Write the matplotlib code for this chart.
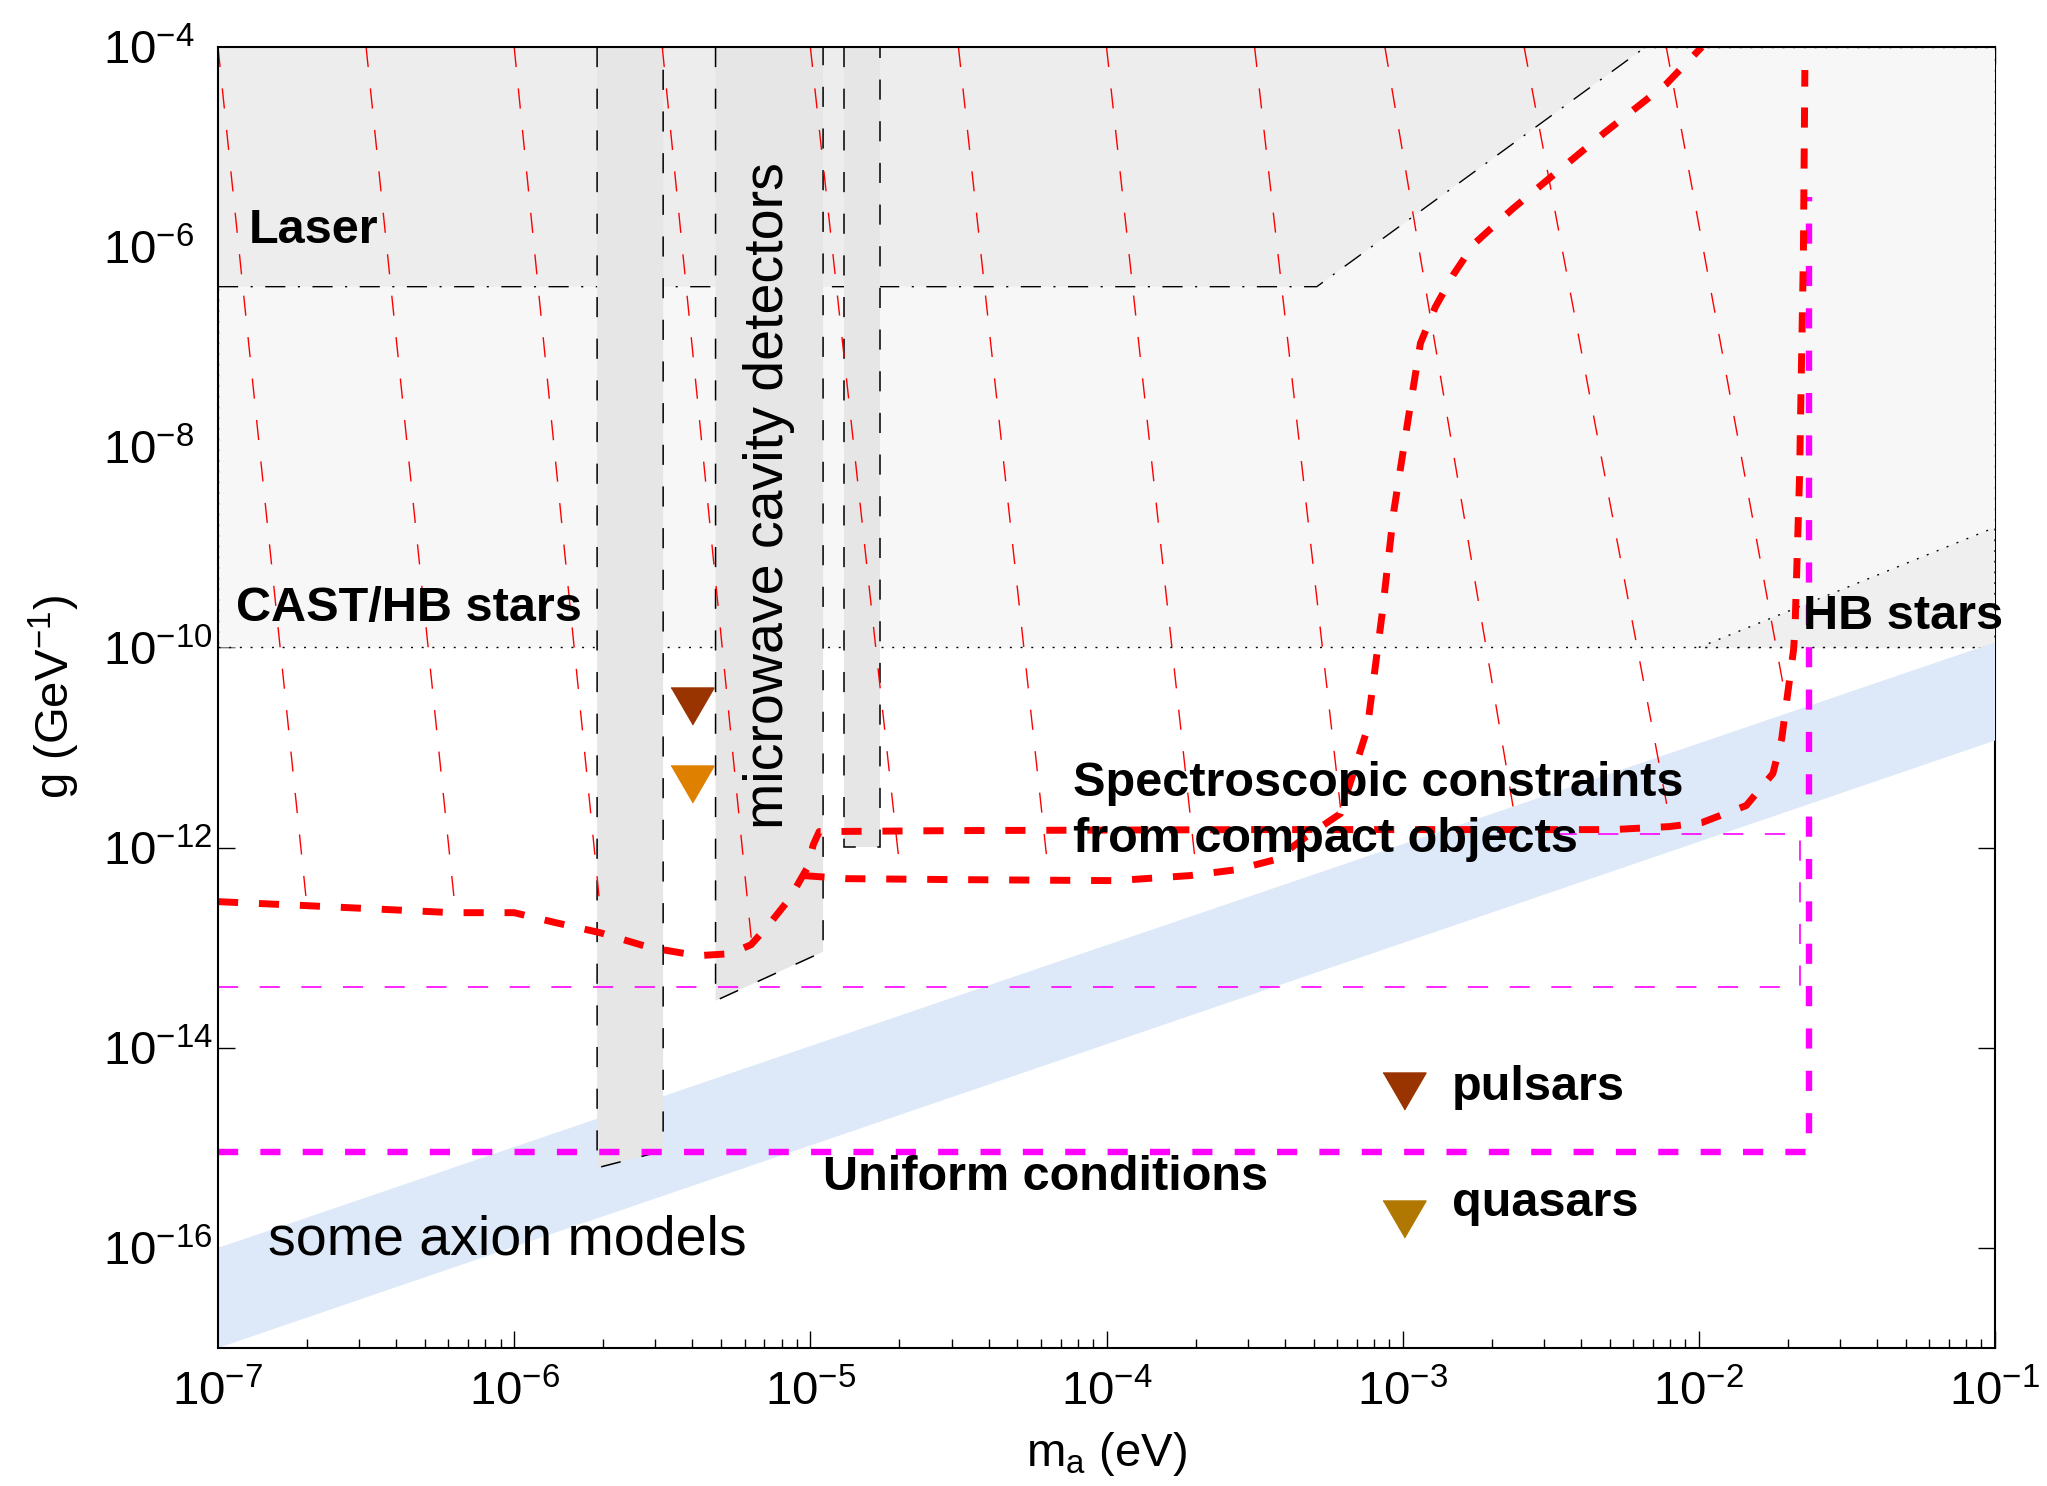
import numpy as np
import matplotlib
matplotlib.use('Agg')
import matplotlib.pyplot as plt
from matplotlib.ticker import LogLocator, NullLocator, NullFormatter

plt.rcParams['font.family'] = ['Liberation Sans', 'DejaVu Sans']
plt.rcParams['mathtext.fontset'] = 'custom'
plt.rcParams['mathtext.rm'] = 'Liberation Sans'
plt.rcParams['mathtext.it'] = 'Liberation Sans:italic'
plt.rcParams['mathtext.bf'] = 'Liberation Sans:bold'
plt.rcParams['lines.scale_dashes'] = False

# all values are log10: axion mass in eV, coupling in GeV^-1
x_range = [-7, -1]
y_range = [-17, -4]
x_tick_exp = [-7, -6, -5, -4, -3, -2, -1]
y_tick_exp = [-16, -14, -12, -10, -8, -6, -4]

# CAST / HB stars bound and the HB stars wedge
cast_x = [-7, -1, -1, -7]
cast_y = [-10, -10, -4, -4]
hb_x = [-2, -1, -1]
hb_y = [-10, -8.8, -10]

# laser experiments
laser_x = [-7, -3.29, -2.18, -7]
laser_y = [-6.395, -6.395, -4, -4]

# microwave cavity detectors (left, right, bottom left, bottom right)
cav_left = [-5.72, -5.32, -4.886]
cav_right = [-5.497, -4.957, -4.765]
cav_bot_left = [-15.2, -13.53, -11.99]
cav_bot_right = [-15.03, -13.04, -11.99]

# some axion models band, edges at both ends of the mass range
axion_x = [-7, -1]
axion_upper = [-16.0, -9.95]
axion_lower = [-17.0, -10.93]

# spectroscopic constraints from compact objects
spec_a_x = [-7.0, -6.70, -6.21, -6.0, -5.86, -5.71, -5.54, -5.38, -5.27, -5.20,
            -5.14, -5.07, -5.01, -4.99, -4.97, -4.5, -3.5, -2.6, -2.29, -2.10,
            -1.99, -1.84, -1.75, -1.72, -1.70, -1.68, -1.675, -1.66, -1.647, -1.642]
spec_a_y = [-12.54, -12.58, -12.65, -12.65, -12.75, -12.85, -13.0, -13.08, -13.06, -12.97,
            -12.77, -12.51, -12.20, -11.97, -11.84, -11.83, -11.82, -11.82, -11.82, -11.79,
            -11.75, -11.58, -11.26, -10.91, -10.46, -10.02, -9.78, -8.30, -6.07, -4.23]
spec_b_x = [-5.02, -4.88, -4.5, -3.97, -3.72, -3.56, -3.43, -3.33, -3.21, -3.12, -3.07,
            -3.03, -2.98, -2.94, -2.89, -2.83, -2.76, -2.63, -2.52, -2.32, -2.11, -1.99]
spec_b_y = [-12.28, -12.31, -12.32, -12.33, -12.28, -12.22, -12.12, -11.9, -11.66, -10.82, -9.68,
            -8.64, -7.69, -6.96, -6.60, -6.28, -5.97, -5.62, -5.35, -4.86, -4.37, -4.0]

# thin contours, from the top edge down to the spectroscopic curves
contour_top_x = [-7.0, -6.5, -6.0, -5.5, -5.0, -4.5, -4.0, -3.5, -3.06, -2.59, -2.11]
contour_end_x = [-6.70, -6.20, -5.71, -5.196, -4.70, -4.20, -3.70, -3.21, -2.62, -2.10, -1.71]
contour_end_y = [-12.58, -12.59, -12.59, -13.01, -12.15, -12.15, -12.15, -11.6, -11.72, -11.70, -10.46]

# uniform conditions
uni_thin_x = [-7, -1.66, -1.66, -2.5]
uni_thin_y = [-13.39, -13.39, -11.86, -11.86]
uni_thick_x = [-7, -1.627, -1.627]
uni_thick_y = [-15.04, -15.04, -5.5]

# pulsar and quasar limits
pulsar_x, pulsar_y = -5.398, -10.585
quasar_x, quasar_y = -5.398, -11.36
key_x = -2.996
key_pulsar_y = -14.43
key_quasar_y = -15.716


def lg(v):
    return 10.0 ** np.asarray(v, dtype=float)


DASH = (0, (14.5, 15.5))
DASHDOT = (0, (14.5, 9, 1.5, 9))
DOT = (0, (1.4, 6.3))
TRI = [(-0.5, 0.43), (0.5, 0.43), (0.0, -0.43)]

fig = plt.figure(figsize=(20.47, 14.86), dpi=100)
ax = fig.add_axes([0.1065, 0.09287, 0.8681, 0.8755])
ax.set_xscale('log')
ax.set_yscale('log')

# shaded exclusion regions
ax.fill(lg(cast_x), lg(cast_y), facecolor='#f7f7f7', edgecolor='k', lw=1.0, ls=DOT, zorder=1)
ax.fill(lg(hb_x), lg(hb_y), facecolor='#efefef', edgecolor='k', lw=1.0, ls=DOT, zorder=1.1)
ax.fill(lg(laser_x), lg(laser_y), facecolor='#ededed', edgecolor='k', lw=1.0, ls=DASHDOT, zorder=1.2)

ax.fill(lg([axion_x[0], axion_x[1], axion_x[1], axion_x[0]]),
        lg([axion_upper[0], axion_upper[1], axion_lower[1], axion_lower[0]]),
        facecolor='#dde9f8', edgecolor='none', zorder=1.5)

for l, r, bl, br in zip(cav_left, cav_right, cav_bot_left, cav_bot_right):
    ax.fill(lg([l, l, r, r]), lg([-4, bl, br, -4]), facecolor='#e6e6e6',
            edgecolor='k', lw=1.1, ls=DASH, zorder=2)

# contours
for tx, ex, ey in zip(contour_top_x, contour_end_x, contour_end_y):
    ax.plot(lg([tx, ex]), lg([-4, ey]), color='red', lw=1.0, ls=DASH, zorder=3)

ax.plot(lg(uni_thin_x), lg(uni_thin_y), color='magenta', lw=1.2, ls=DASH, zorder=3)
ax.plot(lg(uni_thick_x), lg(uni_thick_y), color='magenta', lw=4.6,
        ls=(0, (14.5, 16)), zorder=4)

ax.plot(lg(spec_a_x), lg(spec_a_y), color='red', lw=5, ls=(0, (14.5, 15)), zorder=5)
ax.plot(lg(spec_b_x), lg(spec_b_y), color='red', lw=5, ls=(0, (14.5, 15)), zorder=5)

# markers
ax.plot(lg(pulsar_x), lg(pulsar_y), marker=TRI, ms=31, color='#993300', ls='none', zorder=6)
ax.plot(lg(quasar_x), lg(quasar_y), marker=TRI, ms=31, color='#e08000', ls='none', zorder=6)
ax.plot(lg(key_x), lg(key_pulsar_y), marker=TRI, ms=31, color='#993300', ls='none', zorder=6)
ax.plot(lg(key_x), lg(key_quasar_y), marker=TRI, ms=31, color='#b07800', ls='none', zorder=6)

# labels
bold = dict(fontsize=35, fontweight='bold', va='baseline', ha='left', zorder=7)
ax.text(lg(-6.895), lg(-5.958), 'Laser', **bold)
ax.text(lg(-6.94), lg(-9.733), 'CAST/HB stars', **bold)
ax.text(lg(-1.649), lg(-9.82), 'HB stars', **bold)
ax.text(lg(-4.113), lg(-11.484), 'Spectroscopic constraints', **bold)
ax.text(lg(-4.113), lg(-12.04), 'from compact objects', **bold)
ax.text(lg(-4.956), lg(-15.42), 'Uniform conditions', **bold)
ax.text(lg(-2.835), lg(-14.52), 'pulsars', **bold)
ax.text(lg(-2.834), lg(-15.68), 'quasars', **bold)
ax.text(lg(-6.83), lg(-16.07), 'some axion models', fontsize=40,
        va='baseline', ha='left', zorder=7)
ax.text(lg(-5.093), lg(-11.81), 'microwave cavity detectors', fontsize=40,
        rotation=90, rotation_mode='anchor', va='baseline', ha='left', zorder=7)

# axes
ax.set_xlim(lg(x_range))
ax.set_ylim(lg(y_range))
ax.set_xticks(lg(x_tick_exp))
ax.set_xticklabels([r'$\mathregular{10^{%d}}$' % e for e in x_tick_exp])
ax.xaxis.set_minor_locator(LogLocator(base=10, subs=np.arange(2, 10), numticks=50))
ax.xaxis.set_minor_formatter(NullFormatter())
ax.set_yticks(lg(y_tick_exp))
ax.set_yticklabels([r'$\mathregular{10^{%d}}$' % e for e in y_tick_exp])
ax.yaxis.set_minor_locator(NullLocator())

ax.tick_params(which='both', direction='in', top=True, right=True, width=1.0)
ax.tick_params(which='major', length=12)
ax.tick_params(which='minor', length=6.5)
ax.tick_params(axis='x', labelsize=34, pad=16)
ax.tick_params(axis='y', labelsize=34, pad=83)
for lab in ax.get_yticklabels():
    lab.set_horizontalalignment('left')

ax.set_axisbelow(True)
for side in ['left', 'top', 'bottom']:
    ax.spines[side].set_zorder(20)
    ax.spines[side].set_linewidth(1.5)
ax.spines['right'].set_zorder(0.5)
ax.spines['right'].set_linewidth(1.5)

ax.set_xlabel(r'$\mathregular{m_a}$ (eV)', fontsize=34)
ax.set_ylabel(r'g (GeV$^{\mathregular{-1}}$)', fontsize=34)
ax.xaxis.set_label_coords(0.5, -0.063)
ax.yaxis.set_label_coords(-0.0765, 0.5)

fig.savefig('out.png', dpi=100)
